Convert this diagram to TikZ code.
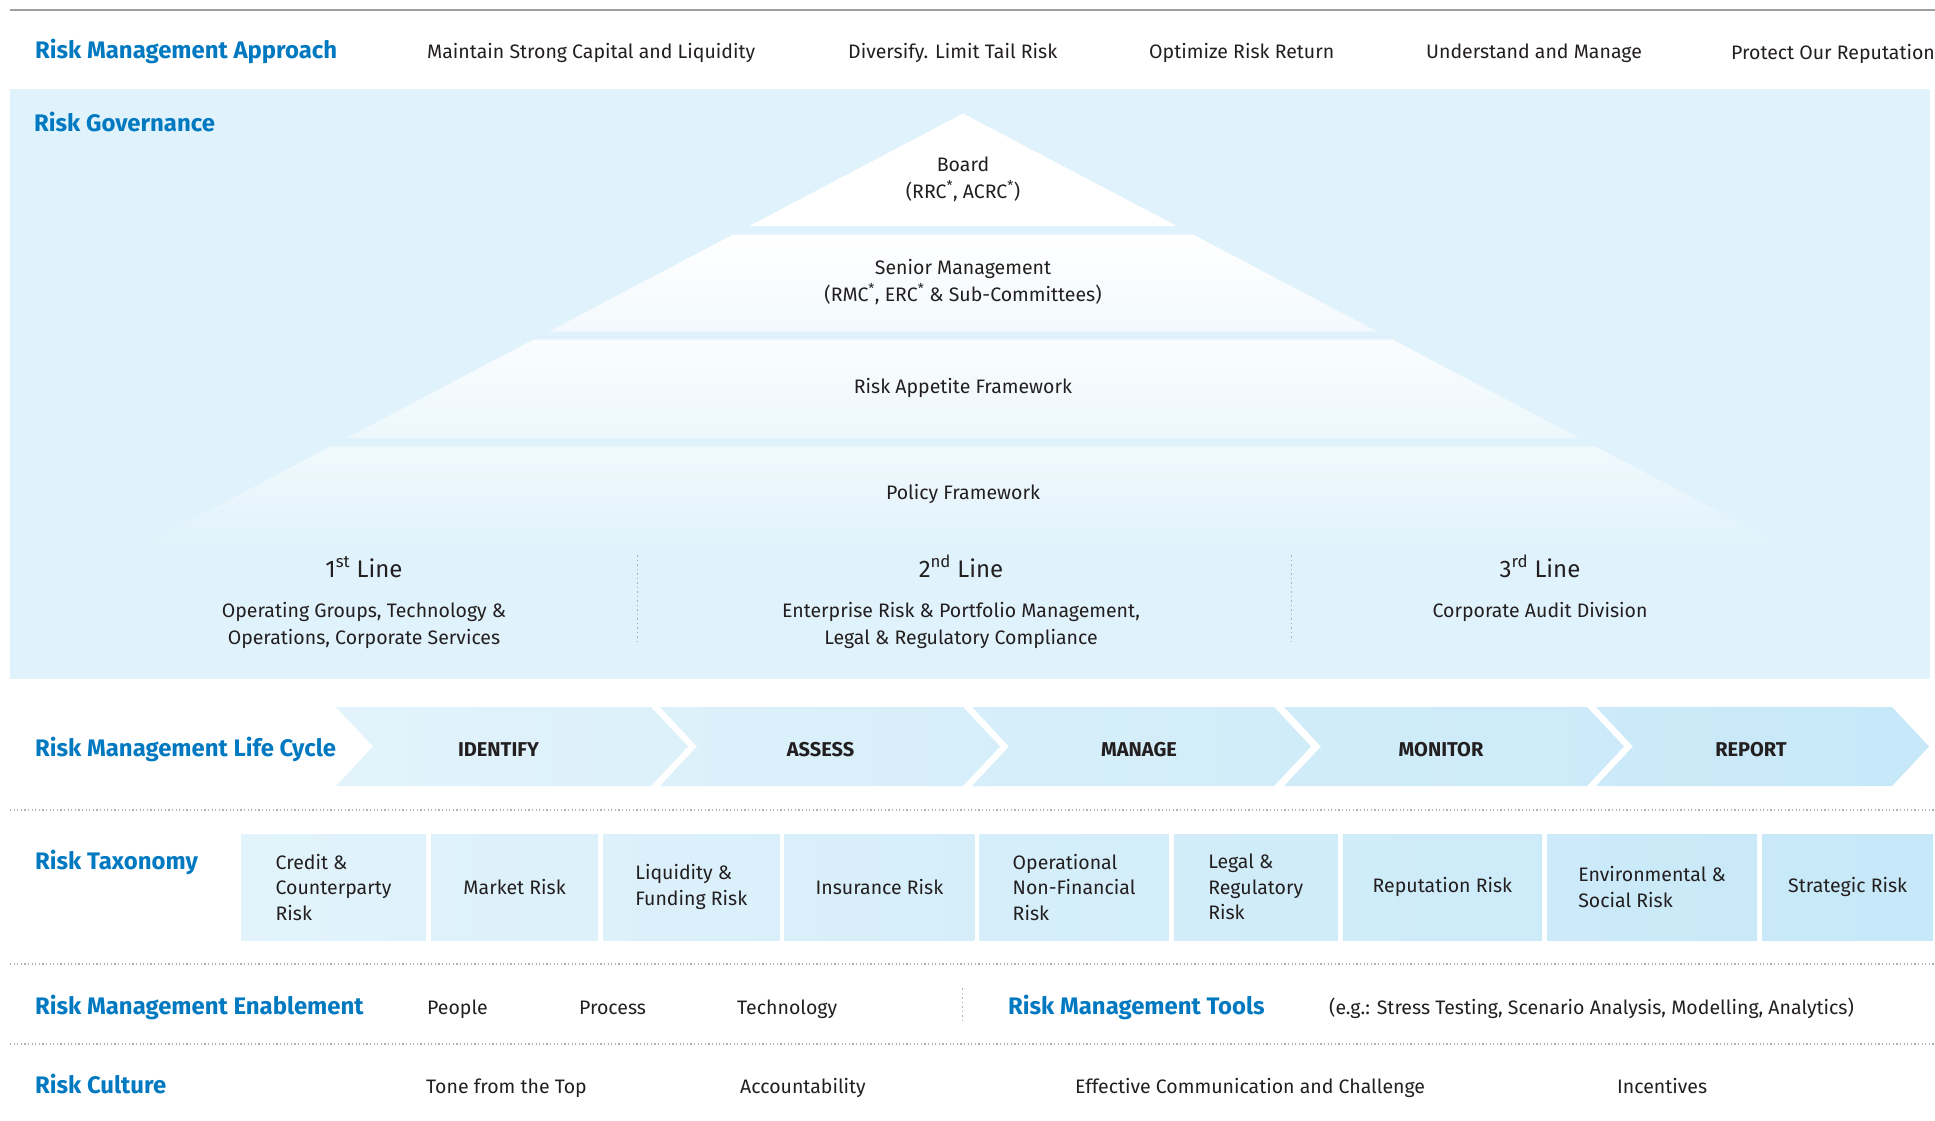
\documentclass[tikz,border=0pt]{standalone}
\usepackage{fontspec}
\setmainfont{Fira Sans}
\usetikzlibrary{positioning}

\definecolor{bmoblue}{HTML}{0079C1}
\definecolor{inkblack}{HTML}{231F20}
\definecolor{band}{HTML}{E0F2FB}
\definecolor{paleL}{HTML}{E2F3FB}
\definecolor{paleR}{HTML}{C6E8F8}
\definecolor{layerB}{HTML}{F3F9FD}
\definecolor{layerC}{HTML}{FAFDFE}
\definecolor{layerD}{HTML}{EDF7FC}
\definecolor{layerE}{HTML}{F1F9FD}

\newcommand{\bodyfont}{\fontsize{19.5}{27}\selectfont}
\newcommand{\headfont}{\bfseries\fontsize{23.9}{28}\selectfont}
\newcommand{\taxfont}{\fontsize{19.5}{25.5}\selectfont}
\newcommand{\linefont}{\fontsize{24}{28}\selectfont}

\begin{document}
\begin{tikzpicture}[x=1pt, y=-1pt,
    every node/.style={inner sep=0pt, text=inkblack, font=\bodyfont},
    heading/.style={anchor=base west, text=bmoblue, font=\headfont},
    item/.style={anchor=base west},
    layertext/.style={align=center},
    lifelabel/.style={anchor=base, font=\bfseries\fontsize{20}{24}\selectfont},
    taxbox/.style={minimum height=106pt, align=left, font=\taxfont},
    sepline/.style={gray!60, line width=1.2pt, dash pattern=on 1.2pt off 2.4pt},
    vsep/.style={gray!60, line width=1pt, dash pattern=on 1.5pt off 3pt},
    node distance=4.75pt
  ]
  \fill[white] (0,0) rectangle (1935,1120);
  \useasboundingbox (0,0) rectangle (1935,1120);

  % Approach
  \draw[gray!75, line width=2.5pt] (10,10) -- (1935,10);
  \node[heading] (approach) at (35,58) {Risk Management Approach};
  \node[item] (capital) at (427,58) {Maintain Strong Capital and Liquidity};
  \node[item] (diversify) at (848,58) {Diversify. Limit Tail Risk};
  \node[item] (optimize) at (1149,58) {Optimize Risk Return};
  \node[item] (understand) at (1426,58) {Understand and Manage};
  \node[item] (reputation) at (1731,59.5) {Protect Our Reputation};

  % Governance
  \fill[band] (10,89) rectangle (1930,679);
  \node[heading] (governance) at (34,131) {Risk Governance};
  \foreach \ya/\yb/\ctop/\cbot in {113.5/226/white/white, 234.5/331.5/white/layerB,
      339.5/438/layerC/layerD, 446.5/548/layerE/band}
    \shade[top color=\ctop, bottom color=\cbot]
      ({963-1.9*(\ya-113.5)},\ya) -- ({963+1.9*(\ya-113.5)},\ya)
      -- ({963+1.9*(\yb-113.5)},\yb) -- ({963-1.9*(\yb-113.5)},\yb) -- cycle;
  \node[layertext] (board) at (963,179) {Board\\(RRC\textsuperscript{*}, ACRC\textsuperscript{*})};
  \node[layertext] (senior) at (963,282) {Senior Management\\(RMC\textsuperscript{*}, ERC\textsuperscript{*} \& Sub-Committees)};
  \node[anchor=base] (appetite) at (963,393.5) {Risk Appetite Framework};
  \node[anchor=base] (policy) at (963,499) {Policy Framework};

  \node[anchor=base, font=\linefont] (first) at (364,577) {1\textsuperscript{st} Line};
  \node[anchor=base, font=\linefont] (second) at (961,577) {2\textsuperscript{nd} Line};
  \node[anchor=base, font=\linefont] (third) at (1540,577) {3\textsuperscript{rd} Line};
  \node[layertext] (firstdesc) at (364,625) {Operating Groups, Technology \&\\Operations, Corporate Services};
  \node[layertext] (seconddesc) at (961,625) {Enterprise Risk \& Portfolio Management,\\Legal \& Regulatory Compliance};
  \node[anchor=base] (thirddesc) at (1540,617.5) {Corporate Audit Division};
  \draw[vsep] (637,555) -- (637,645);
  \draw[vsep] (1291,555) -- (1291,645);

  % Life cycle
  \node[heading] (lifecycle) at (35,756) {Risk Management Life Cycle};
  \foreach \x/\w/\pa/\pb in {336/315/0/22, 660/303/20/42, 972/302/40/61,
      1284/303/59/80, 1596/296/79/100}
    \shade[left color=paleR!\pa!paleL, right color=paleR!\pb!paleL]
      (\x,707) -- ({\x+\w},707) -- ({\x+\w+37},746.5) -- ({\x+\w},786)
      -- (\x,786) -- ({\x+37},746.5) -- cycle;
  \foreach \lx/\name/\lab in {498.5/identify/IDENTIFY, 820.5/assess/ASSESS,
      1139/manage/MANAGE, 1441/monitor/MONITOR, 1751/report/REPORT}
    \node[lifelabel] (\name) at (\lx,756) {\lab};
  \draw[sepline] (10,810) -- (1935,810);

  % Taxonomy
  \node[heading] (taxonomy) at (35,869) {Risk Taxonomy};
  \node[taxbox, minimum width=185pt, left color=paleR!0!paleL, right color=paleR!11!paleL] (credit) at (333.5,887) {Credit \&\\Counterparty\\Risk};
  \node[taxbox, minimum width=167pt, left color=paleR!11!paleL, right color=paleR!21!paleL, right=of credit] (market) {Market Risk};
  \node[taxbox, minimum width=176pt, left color=paleR!21!paleL, right color=paleR!32!paleL, right=of market] (liquidity) {Liquidity \&\\Funding Risk};
  \node[taxbox, minimum width=190pt, left color=paleR!32!paleL, right color=paleR!43!paleL, right=of liquidity] (insurance) {Insurance Risk};
  \node[taxbox, minimum width=189pt, left color=paleR!44!paleL, right color=paleR!55!paleL, right=of insurance] (operational) {Operational\\Non-Financial\\Risk};
  \node[taxbox, minimum width=164pt, left color=paleR!55!paleL, right color=paleR!65!paleL, right=of operational] (legal) {Legal \&\\Regulatory\\Risk};
  \node[taxbox, minimum width=199pt, left color=paleR!65!paleL, right color=paleR!77!paleL, right=of legal] (reputationrisk) {Reputation Risk};
  \node[taxbox, minimum width=210pt, left color=paleR!77!paleL, right color=paleR!90!paleL, right=of reputationrisk] (environmental) {Environmental \&\\Social Risk};
  \node[taxbox, minimum width=171pt, left color=paleR!90!paleL, right color=paleR!100!paleL, right=of environmental] (strategic) {Strategic Risk};
  \draw[sepline] (10,964) -- (1935,964);

  % Enablement and tools
  \node[heading] (enablement) at (35,1014) {Risk Management Enablement};
  \node[item] (people) at (427,1014) {People};
  \node[item] (process) at (579,1014) {Process};
  \node[item] (technology) at (737,1014) {Technology};
  \draw[vsep] (962.5,988) -- (962.5,1021);
  \node[heading] (tools) at (1008,1014) {Risk Management Tools};
  \node[item] (toolsnote) at (1329,1014) {(e.g.: Stress Testing, Scenario Analysis, Modelling, Analytics)};
  \draw[sepline] (10,1044) -- (1935,1044);

  % Culture
  \node[heading] (culture) at (35,1093) {Risk Culture};
  \node[item] (tone) at (426,1093) {Tone from the Top};
  \node[item] (account) at (740,1093) {Accountability};
  \node[item] (communication) at (1075,1093) {Effective Communication and Challenge};
  \node[item] (incentives) at (1617,1093) {Incentives};
\end{tikzpicture}
\end{document}
